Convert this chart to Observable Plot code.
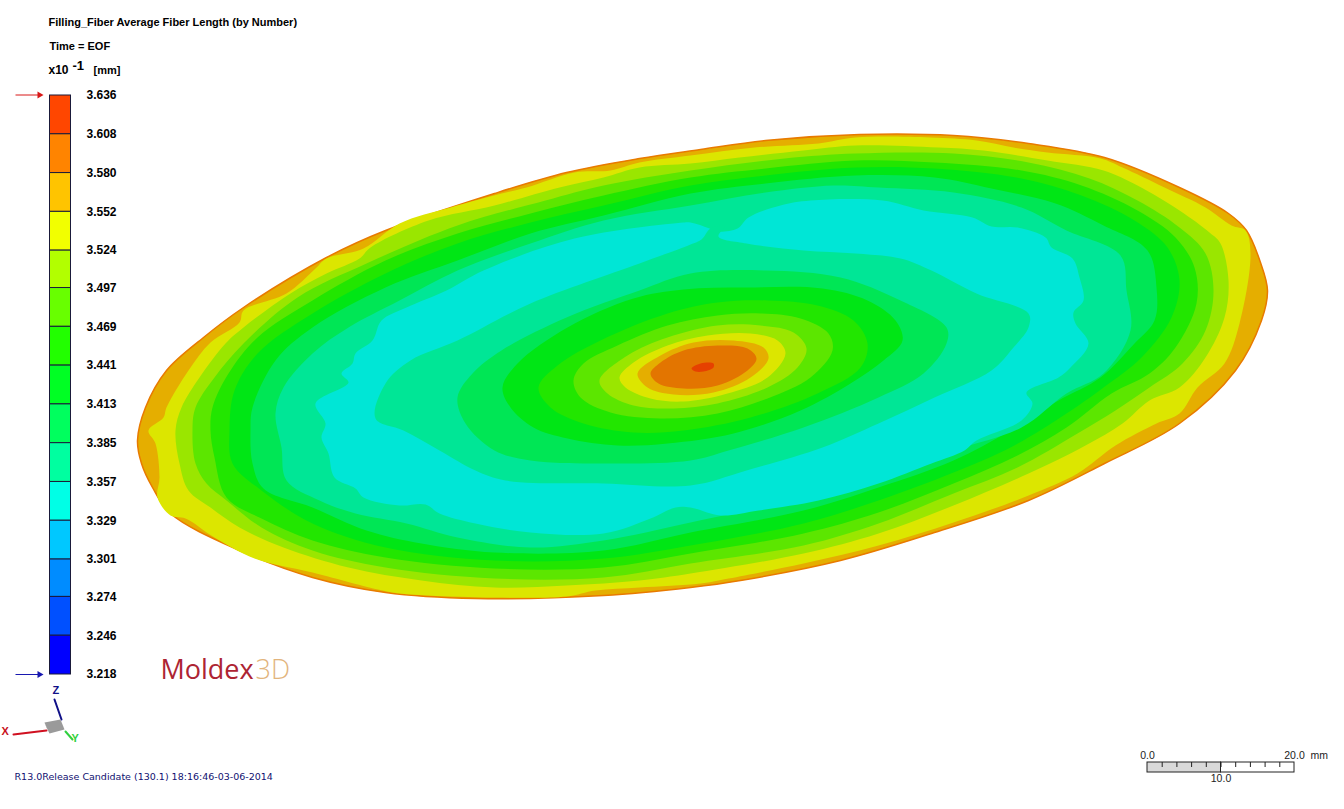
<!DOCTYPE html>
<html><head><meta charset="utf-8">
<script src="https://cdn.jsdelivr.net/npm/d3@7"></script>
<script src="https://cdn.jsdelivr.net/npm/@observablehq/plot@0.6"></script>
<style>
html,body{margin:0;padding:0;background:#fff;width:1344px;height:809px;overflow:hidden}
#wrap{position:relative;width:1344px;height:809px}
#wrap svg{position:absolute;left:0;top:0;background:transparent}
</style></head><body><div id="wrap"></div>
<script>
// Contour outlines (screen-plane position of each isoline).
const rimOutline=[[137,440],[145,407],[166,370],[203,337],[243,307],[326,257],[385,230],[494,193],[566,172],[639,158],[700,149],[765,140],[859,134],[953,135],[1028,143],[1104,157],[1179,187],[1228,213],[1246,230],[1260,262],[1267,290],[1261,320],[1235,370],[1179,423],[1104,463],[1028,500],[931,533],[840,560],[740,580],[690,587],[603,595],[475,598],[385,592],[312,577],[239,550],[170,513],[152,487],[141,463]];
const yellowOuter=[[148,430],[155,443],[159,477],[157,497],[170,515],[185,518],[214,537],[254,558],[312,572],[392,592],[428,595],[494,597],[566,596],[595,590],[639,587],[700,583],[728,578],[803,563],[878,545],[953,522],[1028,495],[1077,473],[1115,445],[1156,423],[1179,413],[1197,387],[1224,363],[1239,323],[1250,253],[1245,230],[1231,225],[1205,207],[1164,187],[1122,167],[1100,158],[1047,152],[1013,147],[976,140],[930,137],[855,137],[818,143],[754,147],[690,155],[639,162],[610,170],[574,172],[526,187],[501,193],[450,207],[399,223],[363,248],[326,258],[315,268],[286,293],[243,310],[239,322],[210,342],[188,370],[166,407],[163,417]];
const yellowGreenOuter=[[175,430],[179,463],[188,490],[210,507],[239,527],[283,547],[348,567],[421,580],[494,587],[566,585],[639,580],[690,573],[803,553],[878,533],[953,505],[1028,473],[1085,445],[1122,423],[1149,400],[1179,387],[1205,357],[1224,317],[1228,280],[1220,243],[1209,232],[1179,210],[1137,185],[1103,170],[1047,160],[983,150],[938,147],[855,145],[803,150],[739,157],[690,163],[639,167],[603,177],[559,187],[494,205],[428,220],[370,247],[359,258],[326,273],[290,293],[243,327],[225,343],[199,377],[181,407]];
const limeOuter=[[192,430],[195,463],[206,483],[226,500],[261,527],[312,550],[385,567],[494,578],[603,577],[690,563],[803,545],[878,523],[953,493],[1017,467],[1077,433],[1115,410],[1149,387],[1182,363],[1205,330],[1213,290],[1205,253],[1179,227],[1137,200],[1089,178],[1028,162],[953,153],[855,153],[784,158],[690,170],[603,185],[545,200],[457,225],[366,263],[297,297],[243,343],[214,377],[195,407]];
const green1Outer=[[210,430],[214,457],[226,497],[261,518],[312,540],[385,557],[494,568],[603,567],[690,553],[803,533],[878,512],[953,483],[1017,455],[1066,427],[1111,393],[1149,373],[1175,347],[1196,303],[1194,267],[1175,237],[1137,210],[1081,185],[1021,170],[934,162],[855,160],[765,168],[690,177],[603,195],[530,213],[457,233],[385,260],[312,300],[257,337],[228,373],[212,407]];
const green2Outer=[[229,430],[232,463],[261,490],[312,523],[385,547],[494,560],[603,558],[690,545],[803,523],[878,500],[953,472],[1010,447],[1066,413],[1103,387],[1141,357],[1171,317],[1179,280],[1167,247],[1134,220],[1081,195],[1021,178],[934,168],[855,167],[765,175],[690,185],[603,205],[530,222],[457,243],[385,273],[312,313],[257,353],[234,390]];
const green3Outer=[[250,430],[252,463],[263,488],[312,507],[366,530],[421,543],[494,552],[603,550],[690,532],[803,510],[878,487],[953,460],[1010,430],[1058,400],[1100,377],[1134,343],[1154,320],[1156,287],[1147,250],[1103,225],[1055,203],[991,188],[934,177],[855,175],[765,183],[690,193],[603,215],[530,233],[457,260],[385,287],[312,327],[275,360],[252,407]];
const aquaOuter=[[275,413],[281,447],[286,480],[319,500],[355,513],[406,523],[457,537],[530,547],[603,540],[690,522],[803,497],[878,477],[953,450],[1021,427],[1066,393],[1103,373],[1130,330],[1126,290],[1120,255],[1066,230],[1021,207],[953,192],[878,187],[833,185],[765,192],[690,205],[603,220],[530,243],[457,270],[399,300],[348,327],[312,353],[283,387]];
const cyanOuter=[[690,222],[709,228],[716,231],[737,228],[748,217],[780,205],[810,200],[882,200],[923,210],[972,217],[991,226],[1017,227],[1045,237],[1051,247],[1072,258],[1079,277],[1083,300],[1073,312],[1075,323],[1088,343],[1070,367],[1058,377],[1026,392],[1032,403],[1021,420],[976,440],[964,450],[931,463],[878,483],[818,500],[758,510],[720,515],[690,507],[675,507],[650,518],[603,533],[530,532],[475,523],[439,513],[425,504],[399,505],[363,497],[355,488],[334,477],[328,453],[321,437],[325,423],[315,403],[348,382],[341,373],[352,363],[355,353],[372,340],[381,320],[406,307],[446,290],[483,270],[574,238],[683,222]];
const aquaInner=[[375,418],[385,383],[410,360],[457,340],[530,303],[639,263],[690,244],[701,239],[710,228],[724,226],[718,236],[746,243],[803,250],[855,253],[900,258],[931,270],[976,293],[1028,313],[1028,327],[1013,347],[991,370],[934,397],[878,423],[822,447],[746,470],[690,485],[603,483],[505,480],[475,470],[439,450],[403,430]];
const green3Inner=[[690,273],[765,270],[840,277],[900,300],[946,327],[946,343],[923,373],[878,397],[803,427],[728,450],[690,460],[603,463],[530,460],[494,450],[465,423],[457,397],[472,373],[501,350],[566,317],[639,290]];
const green2Inner=[[502,387],[510,407],[533,427],[567,438],[617,445],[667,443],[733,433],[800,410],[850,383],[883,360],[902,340],[895,320],[867,300],[822,288],[746,287],[683,289],[633,298],[567,327],[517,363]];
const green1Inner=[[538,387],[550,407],[583,423],[633,432],[683,430],[750,417],[817,393],[860,367],[867,343],[853,320],[817,305],[767,300],[717,302],[667,313],[600,340],[557,365]];
const limeInner=[[573,380],[580,397],[610,412],[660,418],[717,413],[767,398],[810,377],[832,350],[828,333],[800,318],[760,313],[717,315],[667,325],[617,345],[583,363]];
const yellowGreenInner=[[599,380],[607,393],[633,405],[673,408],[717,403],[767,387],[797,367],[806,348],[793,332],[760,325],[717,325],[667,337],[627,355]];
const yellowInner=[[619,377],[625,387],[650,398],[683,401],[727,393],[767,377],[785,353],[777,340],[750,333],[707,335],[667,345],[633,362]];
const goldInner=[[637,373],[647,387],[673,394],[713,392],[750,377],[768,358],[763,347],[733,340],[693,342],[660,355]];
const orangeCore=[[650,373],[658,383],[683,388],[717,385],[747,370],[756,358],[747,348],[717,345],[683,350],[660,362]];
const redCore=[[691,368],[700,363],[713,363],[713,367],[703,371],[695,371]];

const contourOrder=[rimOutline,yellowOuter,yellowGreenOuter,limeOuter,green1Outer,green2Outer,green3Outer,aquaOuter,cyanOuter,aquaInner,green3Inner,green2Inner,green1Inner,limeInner,yellowGreenInner,yellowInner,goldInner,orangeCore,redCore];
const contourColors=["#e5ae00","#dce600","#9ae600","#5ce600","#22e600","#00e615","#00e655","#00e696","#00e6d6","#00e696","#00e655","#00e615","#22e600","#5ce600","#9ae600","#dce600","#e5ae00","#e37500","#e64100"];

// Legend
const legendValues=[3.636,3.608,3.580,3.552,3.524,3.497,3.469,3.441,3.413,3.385,3.357,3.329,3.301,3.274,3.246,3.218];
const legendColors=["#ff4600","#ff8400","#ffc400","#f2ff00","#b2ff00","#68ff00","#22ff00","#00ff24","#00ff5e","#00ffa0","#00ffe6","#00c8ff","#008cff","#0050ff","#0000ff"];
// Scale bar
const scaleTicks=[0,2,4,6,8,10,12,14,16,18,20];

const px={x:{domain:[0,1344],range:[0,1344],axis:null},y:{domain:[809,0],range:[809,0].reverse().reverse(),axis:null}};
const base={width:1344,height:809,marginTop:0,marginRight:0,marginBottom:0,marginLeft:0};
const sans="'Liberation Sans',Arial,sans-serif";
const lbl=(t,x,y,o={})=>Plot.text([t],{x:()=>x,y:()=>y,text:d=>d,textAnchor:"start",fontFamily:sans,fontSize:11,fontWeight:"bold",fill:"#000",...o});

// Main field + annotation layer, in picture coordinates
const field=Plot.plot({...base,
  x:{domain:[0,1344],range:[0,1344],axis:null},
  y:{domain:[0,809],range:[0,809],axis:null},
  marks:[
    ...contourOrder.map((pts,i)=>Plot.line(pts,{x:d=>d[0],y:d=>d[1],curve:"catmull-rom-closed",fill:contourColors[i],stroke:i===0?"#e87a00":"none",strokeWidth:i===0?1.5:0})),
    lbl("Filling_Fiber Average Fiber Length (by Number)",48,22),
    lbl("Time = EOF",49,46),
    lbl("x10",48,70,{fontSize:12}),
    lbl("-1",72,65,{fontSize:13}),
    lbl("[mm]",93,70),
    // extreme-value arrows
    Plot.link([[15,94.5,40,94.5]],{x1:d=>d[0],y1:d=>d[1],x2:d=>d[2],y2:d=>d[3],stroke:"#d81818",strokeWidth:1}),
    Plot.dot([[39,94.5]],{x:d=>d[0],y:d=>d[1],symbol:"triangle",rotate:90,r:2.6,fill:"#d81818",stroke:"none"}),
    Plot.link([[15,674,40,674]],{x1:d=>d[0],y1:d=>d[1],x2:d=>d[2],y2:d=>d[3],stroke:"#1818b0",strokeWidth:1}),
    Plot.dot([[39,674]],{x:d=>d[0],y:d=>d[1],symbol:"triangle",rotate:90,r:2.6,fill:"#1818b0",stroke:"none"}),
    // logo
    lbl("Moldex",160,670,{fontFamily:"'Open Sans',sans-serif",fontWeight:"normal",fontSize:27,fill:"#ad2433"}),
    lbl("3D",255,670,{fontFamily:"'Open Sans',sans-serif",fontWeight:"300",fontSize:27,fill:"#e2b47c"}),
    // triad
    Plot.line([[54,699],[61,719]],{x:d=>d[0],y:d=>d[1],stroke:"#101088",strokeWidth:2}),
    Plot.line([[13,734],[46,730]],{x:d=>d[0],y:d=>d[1],stroke:"#d01020",strokeWidth:2}),
    Plot.line([[65,731],[72,739]],{x:d=>d[0],y:d=>d[1],stroke:"#30d040",strokeWidth:2}),
    Plot.line([[44,722],[60,719],[64,729],[49,733]],{x:d=>d[0],y:d=>d[1],curve:"linear-closed",fill:"#9a9a9a",stroke:"none"}),
    Plot.line([[44,722],[49,733],[46,727]],{x:d=>d[0],y:d=>d[1],curve:"linear-closed",fill:"#6f6f6f",stroke:"none"}),
    lbl("Z",52,690,{fill:"#101088",fontSize:11}),
    lbl("X",1,731,{fill:"#c81020",fontSize:11}),
    lbl("Y",71,738,{fill:"#30d040",fontSize:11}),
    lbl("R13.0Release Candidate (130.1) 18:16:46-03-06-2014",14,776,{fontWeight:"normal",fontSize:9.5,fontFamily:"'DejaVu Sans',sans-serif",fill:"#101070",letterSpacing:"-0.1px"}),
    lbl("mm",1310,755,{fontWeight:"normal",fontSize:10.5,fill:"#222"})
  ]});

// Colour legend with its own value scale
const rows=legendColors.map((c,i)=>({hi:legendValues[i],lo:legendValues[i+1],c}));
const legend=Plot.plot({...base,
  x:{domain:[0,1344],range:[0,1344],axis:null},
  y:{domain:[3.218,3.636],range:[674,95],axis:null},
  marks:[
    Plot.rect(rows,{x1:()=>49.5,x2:()=>70.5,y1:"lo",y2:"hi",fill:"c",stroke:"#1a1a3a",strokeWidth:1}),
    Plot.text(legendValues,{x:()=>86,y:d=>d,text:d=>d.toFixed(3),textAnchor:"start",fontFamily:sans,fontSize:12,fontWeight:"bold",fill:"#000"})
  ]});

// Scale bar with its own millimetre scale
const bar=Plot.plot({...base,
  x:{domain:[0,20],range:[1147,1294],axis:null},
  y:{domain:[0,809],range:[0,809],axis:null},
  marks:[
    Plot.rect([[0,10,"#d9d9d9"],[10,20,"#fff"]],{x1:d=>d[0],x2:d=>d[1],y1:()=>762,y2:()=>772,fill:d=>d[2],stroke:"#222",strokeWidth:1}),
    Plot.ruleX(scaleTicks.slice(1,-1),{x:d=>d,y1:()=>762,y2:()=>767,stroke:"#222",strokeWidth:1}),
    Plot.text([0,20],{x:d=>d,y:()=>755,text:d=>d.toFixed(1),fontFamily:sans,fontSize:10.5,fill:"#222"}),
    Plot.text([10],{x:d=>d,y:()=>778,text:d=>d.toFixed(1),fontFamily:sans,fontSize:10.5,fill:"#222"})
  ]});

const w=document.getElementById("wrap");
[field,legend,bar].forEach(s=>{s.style.background="transparent";w.appendChild(s);});
</script></body></html>
